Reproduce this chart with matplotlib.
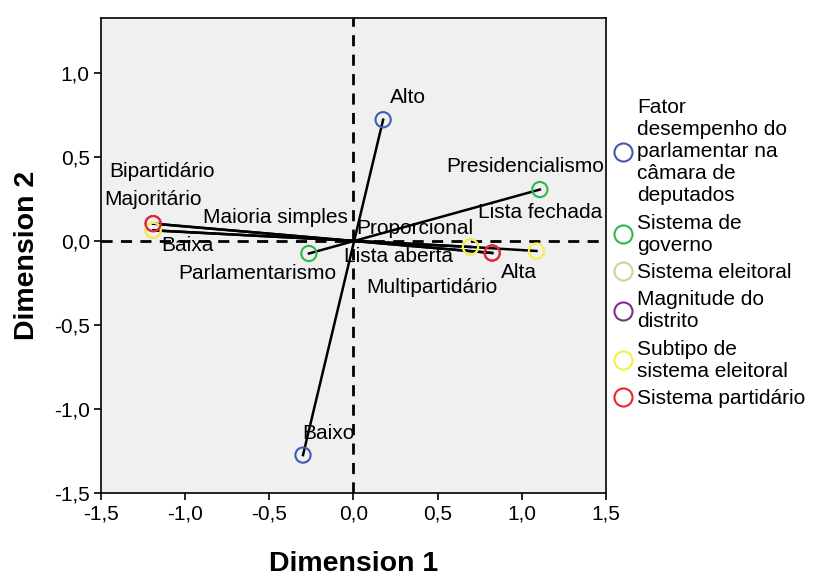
import numpy as np
import matplotlib.pyplot as plt
from matplotlib.lines import Line2D
from matplotlib.ticker import FuncFormatter

plt.rcParams['font.family'] = ['Liberation Sans', 'DejaVu Sans']

# category points per variable (dimension 1, dimension 2)
var_names = ['Fator\ndesempenho do\nparlamentar na\ncâmara de\ndeputados',
             'Sistema de\ngoverno',
             'Sistema eleitoral',
             'Magnitude do\ndistrito',
             'Subtipo de\nsistema eleitoral',
             'Sistema partidário']
var_colors = ['#3F5BAE', '#2DB84A', '#D6CFA0', '#7E2F8B', '#F4F04A', '#E8262B']

desemp_cats = ['Alto', 'Baixo']
desemp_d1 = [0.176, -0.300]
desemp_d2 = [0.724, -1.274]

governo_cats = ['Presidencialismo', 'Parlamentarismo']
governo_d1 = [1.107, -0.265]
governo_d2 = [0.308, -0.073]

eleitoral_cats = ['Majoritário', 'Proporcional']
eleitoral_d1 = [-1.19, 0.695]
eleitoral_d2 = [0.065, -0.034]

magnitude_cats = ['Baixa', 'Alta']
magnitude_d1 = [-1.19, 0.824]
magnitude_d2 = [0.105, -0.070]

subtipo_cats = ['Maioria simples', 'Lista aberta', 'Lista fechada']
subtipo_d1 = [-1.19, 0.695, 1.087]
subtipo_d2 = [0.065, -0.034, -0.058]

partido_cats = ['Bipartidário', 'Multipartidário']
partido_d1 = [-1.19, 0.824]
partido_d2 = [0.105, -0.070]

# where SPSS put each category label
label_pos = {
    'Alto': (0.323, 0.857), 'Baixo': (-0.149, -1.143),
    'Presidencialismo': (1.02, 0.446), 'Parlamentarismo': (-0.57, -0.19),
    'Majoritário': (-1.188, 0.25), 'Proporcional': (0.362, 0.077),
    'Baixa': (-0.986, -0.024), 'Alta': (0.98, -0.185),
    'Maioria simples': (-0.463, 0.143), 'Lista aberta': (0.267, -0.089),
    'Lista fechada': (1.11, 0.173),
    'Bipartidário': (-1.135, 0.417), 'Multipartidário': (0.463, -0.274),
}

groups = [
    (desemp_cats, desemp_d1, desemp_d2),
    (governo_cats, governo_d1, governo_d2),
    (eleitoral_cats, eleitoral_d1, eleitoral_d2),
    (magnitude_cats, magnitude_d1, magnitude_d2),
    (subtipo_cats, subtipo_d1, subtipo_d2),
    (partido_cats, partido_d1, partido_d2),
]

fig = plt.figure(figsize=(8.13, 5.79), dpi=100)
ax = fig.add_axes([0.1242, 0.1485, 0.6212, 0.8204])
ax.set_facecolor('#F0F0F0')

ax.axhline(0, color='black', ls=(0, (4, 3)), lw=2, zorder=1)
ax.axvline(0, color='black', ls=(0, (4, 3)), lw=2, zorder=1)

for (cats, d1, d2), color in zip(groups, var_colors):
    ax.plot(d1, d2, color='black', lw=1.8, zorder=2)
for (cats, d1, d2), color in zip(groups, var_colors):
    ax.scatter(d1, d2, s=120, facecolors='none', edgecolors=color,
               linewidths=1.5, zorder=3)
    for c in cats:
        lx, ly = label_pos[c]
        ax.text(lx, ly, c, ha='center', va='center', fontsize=15, zorder=4)

ax.set_xlim(-1.5, 1.5)
ax.set_ylim(-1.5, 1.33)
ax.set_xticks(np.arange(-1.5, 1.51, 0.5))
ax.set_yticks(np.arange(-1.5, 1.01, 0.5))
fmt = FuncFormatter(lambda v, p: f'{v:.1f}'.replace('.', ',').replace('-0,0', '0,0'))
ax.xaxis.set_major_formatter(fmt)
ax.yaxis.set_major_formatter(fmt)
ax.tick_params(labelsize=15, direction='out', length=5, width=1.2, pad=3)
for s in ax.spines.values():
    s.set_linewidth(1.2)

ax.set_xlabel('Dimension 1', fontsize=20.5, fontweight='bold', labelpad=20)
ax.set_ylabel('Dimension 2', fontsize=20.5, fontweight='bold', labelpad=10)

handles = [Line2D([], [], ls='none', marker='o', ms=13, mfc='none', mec=c, mew=1.5)
           for c in var_colors]
leg = fig.legend(handles, var_names, loc='upper left', bbox_to_anchor=(0.748, 0.83),
                 frameon=False, fontsize=15, handletextpad=0.0, labelspacing=0.4,
                 handlelength=1.4, borderaxespad=0, borderpad=0)
for t in leg.get_texts():
    t.set_linespacing(1.2)

fig.savefig('out.png', dpi=100)
